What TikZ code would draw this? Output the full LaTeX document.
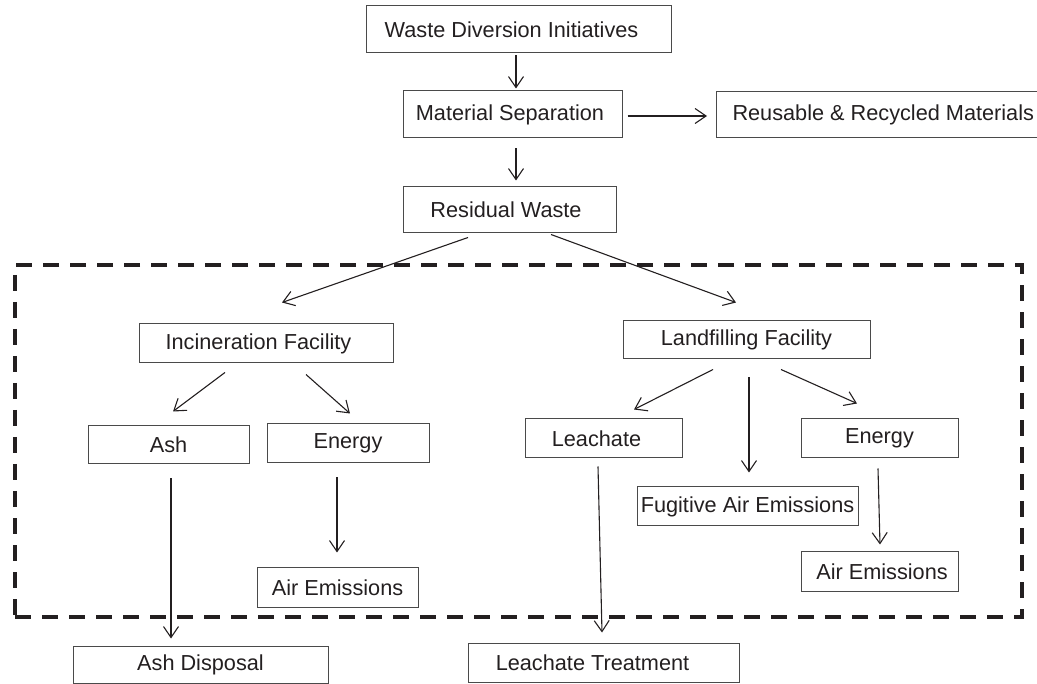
\documentclass[tikz,border=0pt]{standalone}
\usepackage{fontspec}
\setmainfont{Liberation Sans}
\usetikzlibrary{arrows.meta,calc}
\definecolor{ink}{HTML}{231F20}
\definecolor{edge}{HTML}{4A4A4A}
\tikzset{
  box/.style={draw=edge, line width=1pt, rectangle, inner sep=0pt, text=ink,
    font=\fontsize{21.7}{26}\selectfont},
  arr/.style={draw=ink, line width=1.1pt, -{Straight Barb[length=11pt,width=15pt,line width=1.1pt]}},
  region/.style={draw=ink, line width=3.6pt, dash pattern=on 16pt off 11pt, rectangle, inner sep=0pt}
}
\begin{document}
\begin{tikzpicture}[x=1pt,y=-1pt]
\useasboundingbox (0,0) rectangle (1037,684);
% dashed region
\node[region, minimum width=1007pt, minimum height=352pt] (area) at (518.5,441) {};
% boxes
\node[box, minimum width=305pt, minimum height=47pt] (wdi) at (518.5,29.5) {Waste Diversion Initiatives\hspace*{14pt}};
\node[box, minimum width=219pt, minimum height=47pt] (ms) at (512.5,114.5) {Material Separation\hspace*{5pt}};
\node[box, minimum width=213pt, minimum height=46pt] (rw) at (509.5,210) {Residual Waste\hspace*{7pt}};
\node[box, minimum height=46pt, inner xsep=16pt, anchor=west] (rec) at (716,115) {Reusable \& Recycled Materials};
\node[box, minimum width=254pt, minimum height=39pt] (inc) at (266,343.5) {\raisebox{-4pt}{Incineration Facility}\hspace*{15pt}};
\node[box, minimum width=247pt, minimum height=38pt] (lf) at (746.5,340) {Landfilling Facility};
\node[box, minimum width=161pt, minimum height=38pt] (ash) at (168.5,445) {Ash};
\node[box, minimum width=162pt, minimum height=39pt] (en1) at (348,443.5) {Energy};
\node[box, minimum width=161pt, minimum height=39pt] (ae1) at (337.5,587.5) {Air Emissions};
\node[box, minimum width=157pt, minimum height=39pt] (lea) at (603.5,438.5) {Leachate\hspace*{14pt}};
\node[box, minimum width=221pt, minimum height=39pt] (fug) at (747.5,506.5) {Fugitive Air Emissions};
\node[box, minimum width=157pt, minimum height=39pt] (en2) at (879.5,438.5) {Energy};
\node[box, minimum width=157pt, minimum height=39pt] (ae2) at (879.5,571.5) {\hspace*{5pt}Air Emissions};
\node[box, minimum width=255pt, minimum height=37pt] (ad) at (200.5,664.5) {Ash Disposal};
\node[box, minimum width=271pt, minimum height=39pt] (lt) at (603.5,662.5) {Leachate Treatment\hspace*{22pt}};
% connectors
\draw[arr] ([shift={(-2.5,2)}]wdi.south) -- ([shift={(3.5,-2)}]ms.north);
\draw[arr] ([shift={(3.5,10)}]ms.south) -- ([shift={(6.5,-6)}]rw.north);
\draw[arr] ([shift={(5,1.5)}]ms.east) -- ([shift={(-9,1)}]rec.west);
\draw[arr] ([shift={(-41.5,4)}]rw.south) -- ([shift={(16,-21)}]inc.north);
\draw[arr] ([shift={(41.5,1)}]rw.south) -- ([shift={(-10.5,-18)}]lf.north);
\draw[arr] ([shift={(-41,9)}]inc.south) -- ([shift={(4.5,-14)}]ash.north);
\draw[arr] ([shift={(40,11)}]inc.south) -- ([shift={(2,-10)}]en1.north);
\draw[arr] ([shift={(2.5,14)}]ash.south) -- ([shift={(-29.5,-7)}]ad.north);
\draw[arr] ([shift={(-11,14)}]en1.south) -- ([shift={(-0.5,-15)}]ae1.north);
\draw[arr] ([shift={(-33.5,10)}]lf.south) -- ([shift={(30.5,-9)}]lea.north);
\draw[arr] ([shift={(2.5,18)}]lf.south) -- ([shift={(1.5,-14)}]fug.north);
\draw[arr] ([shift={(34.5,10)}]lf.south) -- ([shift={(-22.5,-15)}]en2.north);
\draw[arr] ([shift={(-1.5,10)}]en2.south) -- ([shift={(0.5,-7)}]ae2.north);
\draw[arr] ([shift={(-5.5,8)}]lea.south) -- ([shift={(-1.5,-10)}]lt.north);
\end{tikzpicture}
\end{document}
